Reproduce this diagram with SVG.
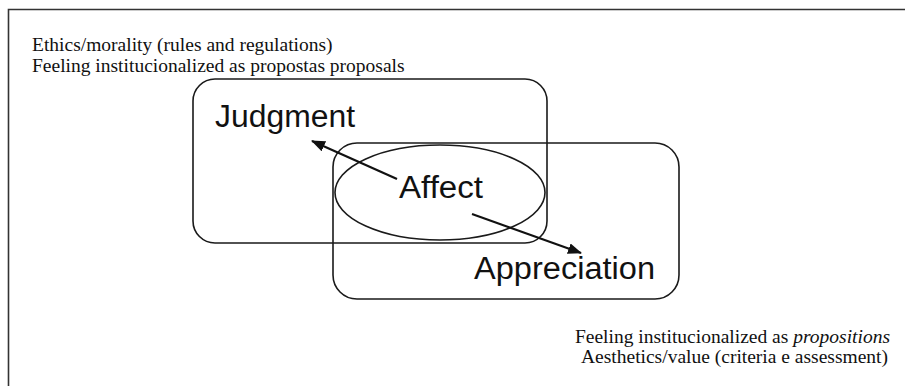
<svg xmlns="http://www.w3.org/2000/svg" width="905" height="386" viewBox="0 0 905 386">
<style>
.box{fill:none;stroke:#1a1a1a;stroke-width:1.6}
.lbl{font-family:"Liberation Sans","Open Sans",sans-serif;fill:#111}
.note{font-family:"Liberation Serif","Times New Roman",serif;font-size:19.5px;fill:#111}
.conn{stroke:#111;stroke-width:2.2;fill:none;marker-end:url(#ah)}
</style>
<defs>
<marker id="ah" viewBox="0 0 14 11" refX="13" refY="5.5" markerWidth="14" markerHeight="11" markerUnits="userSpaceOnUse" orient="auto">
<path d="M0,0 L14,5.5 L0,11 Z" fill="#111"/>
</marker>
</defs>
<rect width="905" height="386" fill="#fff"/>
<path d="M8.5,386 V9.5 H905" fill="none" stroke="#333" stroke-width="1.6"/>
<g id="notes">
<text class="note" x="32" y="51">Ethics/morality (rules and regulations)</text>
<text class="note" x="32" y="72">Feeling institucionalized as propostas proposals</text>
<text class="note" x="890" y="343" text-anchor="end">Feeling institucionalized as <tspan font-style="italic">propositions</tspan></text>
<text class="note" x="888" y="363" text-anchor="end">Aesthetics/value (criteria e assessment)</text>
</g>
<g id="judgment">
<rect class="box" x="193" y="79" width="354" height="164" rx="22" ry="22"/>
<text class="lbl" x="215" y="127" font-size="31" textLength="140" lengthAdjust="spacingAndGlyphs">Judgment</text>
</g>
<g id="appreciation">
<rect class="box" x="333" y="143" width="346" height="156" rx="24" ry="24"/>
<text class="lbl" x="474" y="279" font-size="31" textLength="181" lengthAdjust="spacingAndGlyphs">Appreciation</text>
</g>
<g id="affect">
<ellipse class="box" cx="440" cy="192.5" rx="105" ry="47.5"/>
<text class="lbl" x="399" y="198" font-size="31" textLength="84" lengthAdjust="spacingAndGlyphs">Affect</text>
</g>
<g id="connectors">
<line class="conn" x1="397" y1="179" x2="312" y2="141"/>
<line class="conn" x1="472" y1="214" x2="581" y2="253"/>
</g>
</svg>
